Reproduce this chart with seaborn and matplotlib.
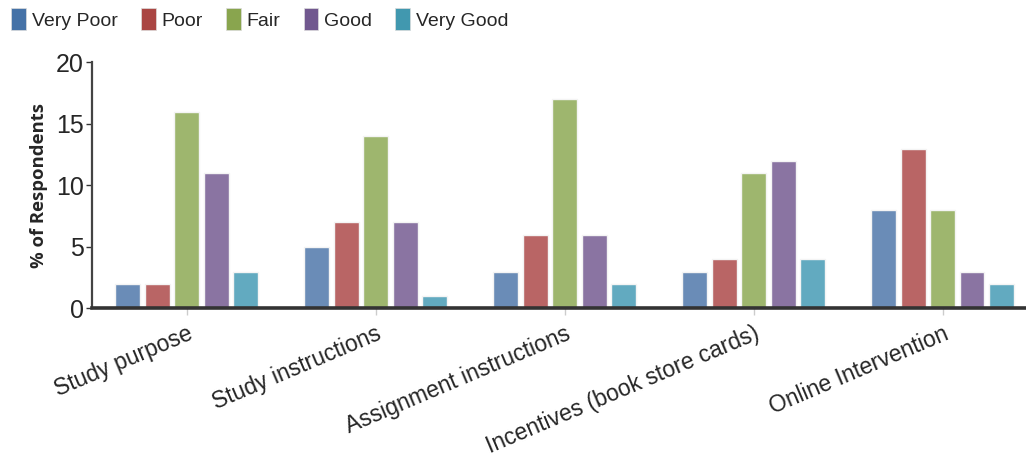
import matplotlib
matplotlib.use("Agg")
import matplotlib.pyplot as plt
from matplotlib.patches import Patch
import seaborn as sns
import pandas as pd

categories = ["Study purpose", "Study instructions", "Assignment instructions",
              "Incentives (book store cards)", "Online Intervention"]
ratings = ["Very Poor", "Poor", "Fair", "Good", "Very Good"]
very_poor = [2, 5, 3, 3, 8]
poor = [2, 7, 6, 4, 13]
fair = [16, 14, 17, 11, 8]
good = [11, 7, 6, 12, 3]
very_good = [3, 1, 2, 4, 2]

bar_colors = ["#6a8cb7", "#b96565", "#9eb66e", "#8a74a2", "#62aac0"]
legend_colors = ["#4572a7", "#aa4643", "#89a54e", "#71588f", "#4198af"]

rows = []
for rating, vals in zip(ratings, [very_poor, poor, fair, good, very_good]):
    for cat, v in zip(categories, vals):
        rows.append({"Category": cat, "Rating": rating, "Value": v})
df = pd.DataFrame(rows)

sns.set_theme(style="white")
plt.rcParams["font.family"] = ["Liberation Sans", "DejaVu Sans"]

fig = plt.figure(figsize=(10.26, 4.73), dpi=100)
ax = fig.add_axes([0.09, 0.348, 0.93, 0.52])

sns.barplot(data=df, x="Category", y="Value", hue="Rating", hue_order=ratings,
            order=categories, palette=bar_colors, saturation=1, width=0.78,
            gap=0.16, edgecolor="#f4f4f4", linewidth=1.0, legend=False, ax=ax)

ax.set_ylim(0, 20)
ax.set_xlim(-0.5, 4.55)
ax.set_yticks([0, 5, 10, 15, 20])
ax.tick_params(axis="y", labelsize=18, length=4, width=1, color="#333333", pad=2,
               left=True)
ax.tick_params(axis="x", labelsize=16.5, length=5, width=1, color="#cccccc",
               bottom=True, pad=5)
ax.set_xticks(range(len(categories)))
ax.set_xticklabels(categories, rotation=23, ha="right", rotation_mode="anchor")

ax.set_xlabel("")
ax.set_ylabel("% of Respondents", fontsize=13.3, fontweight="bold",
              family=["Open Sans", "DejaVu Sans"], labelpad=6)

sns.despine(ax=ax, top=True, right=True)
ax.spines["left"].set_color("#444444")
ax.spines["left"].set_linewidth(1.6)
ax.spines["bottom"].set_color("#333333")
ax.spines["bottom"].set_linewidth(2.6)

handles = [Patch(facecolor=c, edgecolor="#dddddd", linewidth=0.5) for c in legend_colors]
fig.legend(handles, ratings, loc="upper left", bbox_to_anchor=(-0.006, 1.02),
           ncol=5, frameon=False, fontsize=14, handlelength=0.75, handleheight=1.4,
           handletextpad=0.3, columnspacing=1.2)

fig.savefig("out.png", dpi=100, facecolor="white")
